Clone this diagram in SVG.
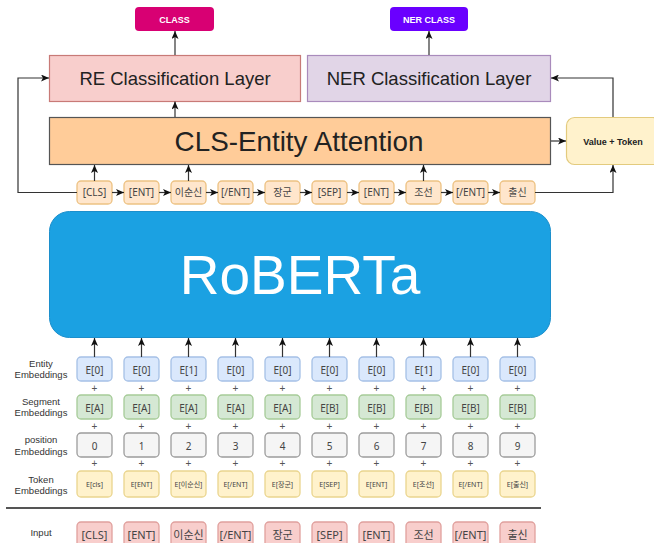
<svg xmlns="http://www.w3.org/2000/svg" width="654" height="543" viewBox="0 0 654 543">
  <defs>
    <marker id="arrow" markerWidth="8" markerHeight="7" refX="8" refY="3.5" orient="auto" markerUnits="userSpaceOnUse">
      <path d="M0,0 L8,3.5 L0,7 L2,3.5 z" fill="#111"/>
    </marker>
    <style>
      .edge { fill: none; stroke: #333; stroke-width: 1.2; }
      .tok { fill: #FFE6CC; stroke: #EDC283; stroke-width: 1.3; }
      .ent { fill: #DAE8FC; stroke: #A5C0E6; stroke-width: 1.3; }
      .seg { fill: #D5E8D4; stroke: #A6CB98; stroke-width: 1.3; }
      .pos { fill: #F5F5F5; stroke: #9C9C9C; stroke-width: 1.3; }
      .temb { fill: #FFF2CC; stroke: #EAD58E; stroke-width: 1.3; }
      .inp { fill: #F8CECC; stroke: #E0A09D; stroke-width: 1.3; }
      .t { font-family: "Noto Sans", "Noto Sans CJK KR", sans-serif; font-size: 10px; fill: #444; text-anchor: middle; }
      .ts { font-family: "Noto Sans", "Noto Sans CJK KR", sans-serif; font-size: 7px; fill: #444; text-anchor: middle; }
      .ti { font-family: "Noto Sans", "Noto Sans CJK KR", sans-serif; font-size: 11px; fill: #444; text-anchor: middle; }
      .lbl { font-family: "Liberation Sans", "Noto Sans CJK KR", sans-serif; font-size: 9.5px; fill: #333; text-anchor: middle; }
      .plus { font-family: "Liberation Sans", sans-serif; font-size: 10px; fill: #555; text-anchor: middle; }
      .big { font-family: "Liberation Sans", sans-serif; fill: #222; text-anchor: middle; }
      .cls { font-family: "Liberation Sans", sans-serif; font-size: 9px; font-weight: bold; fill: #fff; text-anchor: middle; }
    </style>
  </defs>

  <!-- output class boxes -->
  <g id="class-out">
    <rect x="135" y="7" width="79" height="24" rx="4" fill="#D80073"/>
    <text class="cls" x="174.5" y="22.5">CLASS</text>
  </g>
  <g id="ner-class-out">
    <rect x="390" y="7" width="78" height="24" rx="4" fill="#6A00FF"/>
    <text class="cls" x="429" y="22.5">NER CLASS</text>
  </g>

  <!-- classification layers -->
  <g id="re-layer">
    <rect x="49.5" y="55.5" width="251" height="46" fill="#F8CECC" stroke="#C87A77" stroke-width="1.2"/>
    <text class="big" x="175" y="84.5" font-size="18.5">RE Classification Layer</text>
  </g>
  <g id="ner-layer">
    <rect x="307.5" y="55.5" width="243" height="46" fill="#E1D5E7" stroke="#A98BBC" stroke-width="1.2"/>
    <text class="big" x="429" y="84.5" font-size="18.5">NER Classification Layer</text>
  </g>

  <!-- attention block -->
  <g id="cls-entity-attention">
    <rect x="49.5" y="117.5" width="501" height="47" fill="#FFCC99" stroke="#555" stroke-width="1.2"/>
    <text class="big" x="299" y="150.5" font-size="27.8">CLS-Entity Attention</text>
  </g>
  <g id="value-token">
    <rect x="566.5" y="117.5" width="94" height="47" rx="8" fill="#FFF2CC" stroke="#E3CB7E" stroke-width="1.2"/>
    <text class="big" x="613" y="144.5" font-size="9" font-weight="bold" fill="#333">Value + Token</text>
  </g>

  <!-- token sequence -->
  <g id="seq-0"><rect class="tok" x="77" y="181" width="35" height="23" rx="4"/><text class="t" x="94.5" y="196">[CLS]</text></g>
  <g id="seq-1"><rect class="tok" x="124" y="181" width="35" height="23" rx="4"/><text class="t" x="141.5" y="196">[ENT]</text></g>
  <g id="seq-2"><rect class="tok" x="171" y="181" width="35" height="23" rx="4"/><text class="t" x="188.5" y="196">이순신</text></g>
  <g id="seq-3"><rect class="tok" x="218" y="181" width="35" height="23" rx="4"/><text class="t" x="235.5" y="196">[/ENT]</text></g>
  <g id="seq-4"><rect class="tok" x="265" y="181" width="35" height="23" rx="4"/><text class="t" x="282.5" y="196">장군</text></g>
  <g id="seq-5"><rect class="tok" x="312" y="181" width="35" height="23" rx="4"/><text class="t" x="329.5" y="196">[SEP]</text></g>
  <g id="seq-6"><rect class="tok" x="359" y="181" width="35" height="23" rx="4"/><text class="t" x="376.5" y="196">[ENT]</text></g>
  <g id="seq-7"><rect class="tok" x="406" y="181" width="35" height="23" rx="4"/><text class="t" x="423.5" y="196">조선</text></g>
  <g id="seq-8"><rect class="tok" x="453" y="181" width="35" height="23" rx="4"/><text class="t" x="470.5" y="196">[/ENT]</text></g>
  <g id="seq-9"><rect class="tok" x="500" y="181" width="35" height="23" rx="4"/><text class="t" x="517.5" y="196">출신</text></g>

  <!-- encoder -->
  <g id="roberta">
    <rect x="49.5" y="211.5" width="501" height="126" rx="20" fill="#1BA1E2" stroke="#1C8FCC" stroke-width="1"/>
    <text x="300" y="294" font-family="Liberation Sans, sans-serif" font-size="55" fill="#fff" text-anchor="middle">RoBERTa</text>
  </g>

  <!-- row labels -->
  <g id="row-labels">
    <text class="lbl" x="41" y="367">Entity</text>
    <text class="lbl" x="41" y="378">Embeddings</text>
    <text class="lbl" x="41" y="405">Segment</text>
    <text class="lbl" x="41" y="416">Embeddings</text>
    <text class="lbl" x="41" y="443">position</text>
    <text class="lbl" x="41" y="455">Embeddings</text>
    <text class="lbl" x="41" y="483">Token</text>
    <text class="lbl" x="41" y="494">Embeddings</text>
    <text class="lbl" x="41" y="536">Input</text>
  </g>

  <!-- entity embeddings -->
  <g id="ent-0"><rect class="ent" x="77" y="357" width="35" height="24" rx="4"/><text class="t" x="94.5" y="373.5">E[0]</text></g>
  <g id="ent-1"><rect class="ent" x="124" y="357" width="35" height="24" rx="4"/><text class="t" x="141.5" y="373.5">E[0]</text></g>
  <g id="ent-2"><rect class="ent" x="171" y="357" width="35" height="24" rx="4"/><text class="t" x="188.5" y="373.5">E[1]</text></g>
  <g id="ent-3"><rect class="ent" x="218" y="357" width="35" height="24" rx="4"/><text class="t" x="235.5" y="373.5">E[0]</text></g>
  <g id="ent-4"><rect class="ent" x="265" y="357" width="35" height="24" rx="4"/><text class="t" x="282.5" y="373.5">E[0]</text></g>
  <g id="ent-5"><rect class="ent" x="312" y="357" width="35" height="24" rx="4"/><text class="t" x="329.5" y="373.5">E[0]</text></g>
  <g id="ent-6"><rect class="ent" x="359" y="357" width="35" height="24" rx="4"/><text class="t" x="376.5" y="373.5">E[0]</text></g>
  <g id="ent-7"><rect class="ent" x="406" y="357" width="35" height="24" rx="4"/><text class="t" x="423.5" y="373.5">E[1]</text></g>
  <g id="ent-8"><rect class="ent" x="453" y="357" width="35" height="24" rx="4"/><text class="t" x="470.5" y="373.5">E[0]</text></g>
  <g id="ent-9"><rect class="ent" x="500" y="357" width="35" height="24" rx="4"/><text class="t" x="517.5" y="373.5">E[0]</text></g>

  <!-- segment embeddings -->
  <g id="seg-0"><rect class="seg" x="77" y="395" width="35" height="24" rx="4"/><text class="t" x="94.5" y="411.5">E[A]</text></g>
  <g id="seg-1"><rect class="seg" x="124" y="395" width="35" height="24" rx="4"/><text class="t" x="141.5" y="411.5">E[A]</text></g>
  <g id="seg-2"><rect class="seg" x="171" y="395" width="35" height="24" rx="4"/><text class="t" x="188.5" y="411.5">E[A]</text></g>
  <g id="seg-3"><rect class="seg" x="218" y="395" width="35" height="24" rx="4"/><text class="t" x="235.5" y="411.5">E[A]</text></g>
  <g id="seg-4"><rect class="seg" x="265" y="395" width="35" height="24" rx="4"/><text class="t" x="282.5" y="411.5">E[A]</text></g>
  <g id="seg-5"><rect class="seg" x="312" y="395" width="35" height="24" rx="4"/><text class="t" x="329.5" y="411.5">E[B]</text></g>
  <g id="seg-6"><rect class="seg" x="359" y="395" width="35" height="24" rx="4"/><text class="t" x="376.5" y="411.5">E[B]</text></g>
  <g id="seg-7"><rect class="seg" x="406" y="395" width="35" height="24" rx="4"/><text class="t" x="423.5" y="411.5">E[B]</text></g>
  <g id="seg-8"><rect class="seg" x="453" y="395" width="35" height="24" rx="4"/><text class="t" x="470.5" y="411.5">E[B]</text></g>
  <g id="seg-9"><rect class="seg" x="500" y="395" width="35" height="24" rx="4"/><text class="t" x="517.5" y="411.5">E[B]</text></g>

  <!-- position embeddings -->
  <g id="pos-0"><rect class="pos" x="77" y="433" width="35" height="24" rx="4"/><text class="t" x="94.5" y="450">0</text></g>
  <g id="pos-1"><rect class="pos" x="124" y="433" width="35" height="24" rx="4"/><text class="t" x="141.5" y="450">1</text></g>
  <g id="pos-2"><rect class="pos" x="171" y="433" width="35" height="24" rx="4"/><text class="t" x="188.5" y="450">2</text></g>
  <g id="pos-3"><rect class="pos" x="218" y="433" width="35" height="24" rx="4"/><text class="t" x="235.5" y="450">3</text></g>
  <g id="pos-4"><rect class="pos" x="265" y="433" width="35" height="24" rx="4"/><text class="t" x="282.5" y="450">4</text></g>
  <g id="pos-5"><rect class="pos" x="312" y="433" width="35" height="24" rx="4"/><text class="t" x="329.5" y="450">5</text></g>
  <g id="pos-6"><rect class="pos" x="359" y="433" width="35" height="24" rx="4"/><text class="t" x="376.5" y="450">6</text></g>
  <g id="pos-7"><rect class="pos" x="406" y="433" width="35" height="24" rx="4"/><text class="t" x="423.5" y="450">7</text></g>
  <g id="pos-8"><rect class="pos" x="453" y="433" width="35" height="24" rx="4"/><text class="t" x="470.5" y="450">8</text></g>
  <g id="pos-9"><rect class="pos" x="500" y="433" width="35" height="24" rx="4"/><text class="t" x="517.5" y="450">9</text></g>

  <!-- token embeddings -->
  <g id="temb-0"><rect class="temb" x="77" y="471" width="35" height="26" rx="4"/><text class="ts" x="94.5" y="487">E[cls]</text></g>
  <g id="temb-1"><rect class="temb" x="124" y="471" width="35" height="26" rx="4"/><text class="ts" x="141.5" y="487">E[ENT]</text></g>
  <g id="temb-2"><rect class="temb" x="171" y="471" width="35" height="26" rx="4"/><text class="ts" x="188.5" y="487">E[이순신]</text></g>
  <g id="temb-3"><rect class="temb" x="218" y="471" width="35" height="26" rx="4"/><text class="ts" x="235.5" y="487">E[/ENT]</text></g>
  <g id="temb-4"><rect class="temb" x="265" y="471" width="35" height="26" rx="4"/><text class="ts" x="282.5" y="487">E[장군]</text></g>
  <g id="temb-5"><rect class="temb" x="312" y="471" width="35" height="26" rx="4"/><text class="ts" x="329.5" y="487">E[SEP]</text></g>
  <g id="temb-6"><rect class="temb" x="359" y="471" width="35" height="26" rx="4"/><text class="ts" x="376.5" y="487">E[ENT]</text></g>
  <g id="temb-7"><rect class="temb" x="406" y="471" width="35" height="26" rx="4"/><text class="ts" x="423.5" y="487">E[조선]</text></g>
  <g id="temb-8"><rect class="temb" x="453" y="471" width="35" height="26" rx="4"/><text class="ts" x="470.5" y="487">E[/ENT]</text></g>
  <g id="temb-9"><rect class="temb" x="500" y="471" width="35" height="26" rx="4"/><text class="ts" x="517.5" y="487">E[출신]</text></g>

  <!-- plus signs between embedding rows -->
  <g id="plus-signs">
    <text class="plus" x="94.5" y="392">+</text><text class="plus" x="141.5" y="392">+</text><text class="plus" x="188.5" y="392">+</text><text class="plus" x="235.5" y="392">+</text><text class="plus" x="282.5" y="392">+</text><text class="plus" x="329.5" y="392">+</text><text class="plus" x="376.5" y="392">+</text><text class="plus" x="423.5" y="392">+</text><text class="plus" x="470.5" y="392">+</text><text class="plus" x="517.5" y="392">+</text>
    <text class="plus" x="94.5" y="430">+</text><text class="plus" x="141.5" y="430">+</text><text class="plus" x="188.5" y="430">+</text><text class="plus" x="235.5" y="430">+</text><text class="plus" x="282.5" y="430">+</text><text class="plus" x="329.5" y="430">+</text><text class="plus" x="376.5" y="430">+</text><text class="plus" x="423.5" y="430">+</text><text class="plus" x="470.5" y="430">+</text><text class="plus" x="517.5" y="430">+</text>
    <text class="plus" x="94.5" y="467">+</text><text class="plus" x="141.5" y="467">+</text><text class="plus" x="188.5" y="467">+</text><text class="plus" x="235.5" y="467">+</text><text class="plus" x="282.5" y="467">+</text><text class="plus" x="329.5" y="467">+</text><text class="plus" x="376.5" y="467">+</text><text class="plus" x="423.5" y="467">+</text><text class="plus" x="470.5" y="467">+</text><text class="plus" x="517.5" y="467">+</text>
  </g>

  <!-- divider -->
  <line x1="6" y1="508" x2="541" y2="508" stroke="#555" stroke-width="1.8"/>

  <!-- input tokens -->
  <g id="in-0"><rect class="inp" x="77" y="522" width="35" height="26" rx="4"/><text class="ti" x="94.5" y="539">[CLS]</text></g>
  <g id="in-1"><rect class="inp" x="124" y="522" width="35" height="26" rx="4"/><text class="ti" x="141.5" y="539">[ENT]</text></g>
  <g id="in-2"><rect class="inp" x="171" y="522" width="35" height="26" rx="4"/><text class="ti" x="188.5" y="539">이순신</text></g>
  <g id="in-3"><rect class="inp" x="218" y="522" width="35" height="26" rx="4"/><text class="ti" x="235.5" y="539">[/ENT]</text></g>
  <g id="in-4"><rect class="inp" x="265" y="522" width="35" height="26" rx="4"/><text class="ti" x="282.5" y="539">장군</text></g>
  <g id="in-5"><rect class="inp" x="312" y="522" width="35" height="26" rx="4"/><text class="ti" x="329.5" y="539">[SEP]</text></g>
  <g id="in-6"><rect class="inp" x="359" y="522" width="35" height="26" rx="4"/><text class="ti" x="376.5" y="539">[ENT]</text></g>
  <g id="in-7"><rect class="inp" x="406" y="522" width="35" height="26" rx="4"/><text class="ti" x="423.5" y="539">조선</text></g>
  <g id="in-8"><rect class="inp" x="453" y="522" width="35" height="26" rx="4"/><text class="ti" x="470.5" y="539">[/ENT]</text></g>
  <g id="in-9"><rect class="inp" x="500" y="522" width="35" height="26" rx="4"/><text class="ti" x="517.5" y="539">출신</text></g>

  <!-- connectors -->
  <g id="connectors">
    <path class="edge" d="M175,55 V31" marker-end="url(#arrow)"/>
    <path class="edge" d="M429,55 V31" marker-end="url(#arrow)"/>
    <path class="edge" d="M175,117 V101.5" marker-end="url(#arrow)"/>
    <path class="edge" d="M551,141 H566" marker-end="url(#arrow)"/>
    <path class="edge" d="M613,117 V78 H551" marker-end="url(#arrow)"/>
    <path class="edge" d="M77,192.5 H18 V78 H49" marker-end="url(#arrow)"/>
    <path class="edge" d="M535,192.5 H613 V165" marker-end="url(#arrow)"/>
    <path class="edge" d="M94.5,181 V165" marker-end="url(#arrow)"/>
    <path class="edge" d="M188.5,181 V165" marker-end="url(#arrow)"/>
    <path class="edge" d="M423.5,181 V165" marker-end="url(#arrow)"/>
    <path class="edge" d="M112,192.5 H124" marker-end="url(#arrow)"/>
    <path class="edge" d="M159,192.5 H171" marker-end="url(#arrow)"/>
    <path class="edge" d="M206,192.5 H218" marker-end="url(#arrow)"/>
    <path class="edge" d="M253,192.5 H265" marker-end="url(#arrow)"/>
    <path class="edge" d="M300,192.5 H312" marker-end="url(#arrow)"/>
    <path class="edge" d="M347,192.5 H359" marker-end="url(#arrow)"/>
    <path class="edge" d="M394,192.5 H406" marker-end="url(#arrow)"/>
    <path class="edge" d="M441,192.5 H453" marker-end="url(#arrow)"/>
    <path class="edge" d="M488,192.5 H500" marker-end="url(#arrow)"/>
    <path class="edge" d="M94.5,357 V338" marker-end="url(#arrow)"/>
    <path class="edge" d="M141.5,357 V338" marker-end="url(#arrow)"/>
    <path class="edge" d="M188.5,357 V338" marker-end="url(#arrow)"/>
    <path class="edge" d="M235.5,357 V338" marker-end="url(#arrow)"/>
    <path class="edge" d="M282.5,357 V338" marker-end="url(#arrow)"/>
    <path class="edge" d="M329.5,357 V338" marker-end="url(#arrow)"/>
    <path class="edge" d="M376.5,357 V338" marker-end="url(#arrow)"/>
    <path class="edge" d="M423.5,357 V338" marker-end="url(#arrow)"/>
    <path class="edge" d="M470.5,357 V338" marker-end="url(#arrow)"/>
    <path class="edge" d="M517.5,357 V338" marker-end="url(#arrow)"/>
  </g>
</svg>
